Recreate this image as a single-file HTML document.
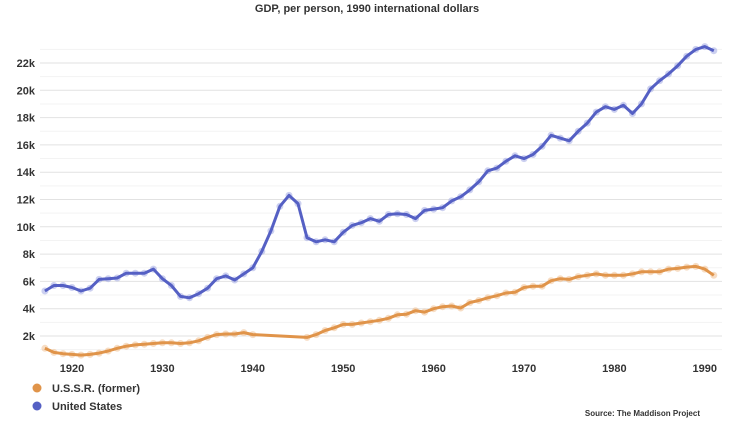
<!DOCTYPE html>
<html><head><meta charset="utf-8"><style>
body{margin:0;background:#fff;width:734px;height:419px;overflow:hidden;font-family:"Liberation Sans",sans-serif}
text{font-family:"Liberation Sans",sans-serif;font-weight:bold;fill:#333}
</style></head><body>
<svg id="s" width="734" height="419" xmlns="http://www.w3.org/2000/svg">
<text x="367" y="12" text-anchor="middle" font-size="11">GDP, per person, 1990 international dollars</text>
<g id="grid"></g>
<g id="lines"></g>
<circle cx="37" cy="388" r="4.5" fill="#e0944a"/>
<text x="52" y="392" font-size="11">U.S.S.R. (former)</text>
<circle cx="37" cy="406" r="4.5" fill="#5560c4"/>
<text x="52" y="410" font-size="11">United States</text>
<text x="700" y="416" text-anchor="end" font-size="8" fill="#444">Source: The Maddison Project</text>
</svg>
<script>
var NS="http://www.w3.org/2000/svg";
function X(y){return 72+(y-1920)*9.04}
function Y(v){return 363.3-v*13.65}
var g=document.getElementById('grid'),h='';
for(var k=1;k<=23;k++){var y=Y(k);h+='<line x1="40" x2="722" y1="'+y+'" y2="'+y+'" stroke="'+(k%2?'#f3f3f3':'#e2e2e2')+'" stroke-width="1"/>';
if(k%2==0)h+='<text x="35" y="'+(y+4)+'" text-anchor="end" font-size="11">'+k+'k</text>';}
for(var d=1920;d<=1990;d+=10)h+='<text x="'+X(d)+'" y="372" text-anchor="middle" font-size="11">'+d+'</text>';
g.innerHTML=h;
var us=[5.3,5.7,5.7,5.55,5.3,5.5,6.15,6.2,6.25,6.6,6.6,6.6,6.9,6.2,5.7,4.9,4.8,5.1,5.5,6.2,6.4,6.1,6.55,7.0,8.2,9.7,11.5,12.3,11.7,9.2,8.9,9.05,8.9,9.6,10.1,10.3,10.6,10.4,10.9,10.95,10.9,10.6,11.2,11.3,11.4,11.9,12.2,12.7,13.3,14.1,14.3,14.8,15.2,15.0,15.3,15.9,16.7,16.5,16.3,17.0,17.6,18.4,18.8,18.6,18.9,18.3,19.0,20.1,20.7,21.2,21.8,22.5,23.0,23.2,22.9];
var su=[1.1,0.8,0.7,0.65,0.6,0.65,0.75,0.9,1.1,1.25,1.35,1.4,1.45,1.5,1.5,1.45,1.5,1.65,1.9,2.1,2.15,2.15,2.25,2.1,null,null,null,null,null,1.9,2.1,2.4,2.6,2.85,2.85,2.95,3.05,3.15,3.3,3.55,3.6,3.85,3.75,4.0,4.15,4.2,4.05,4.45,4.6,4.8,4.95,5.15,5.2,5.55,5.65,5.65,6.05,6.2,6.15,6.35,6.45,6.55,6.45,6.45,6.45,6.55,6.7,6.7,6.7,6.9,6.95,7.05,7.1,6.9,6.45];
function series(d,c,halo){var p='',dots='';for(var i=0;i<d.length;i++){if(d[i]==null)continue;var x=X(1917+i),y=Y(d[i]);p+=(p?'L':'M')+x.toFixed(1)+','+y.toFixed(1);dots+='<circle cx="'+x.toFixed(1)+'" cy="'+y.toFixed(1)+'" r="3.5" fill="'+halo+'" opacity="0.6"/>';}
return dots+'<path d="'+p+'" fill="none" stroke="'+c+'" stroke-width="3" stroke-linejoin="round"/>';}
document.getElementById('lines').innerHTML=series(su,'#e0944a','#f2c79c')+series(us,'#5560c4','#aab0e6');
</script>
</body></html>
